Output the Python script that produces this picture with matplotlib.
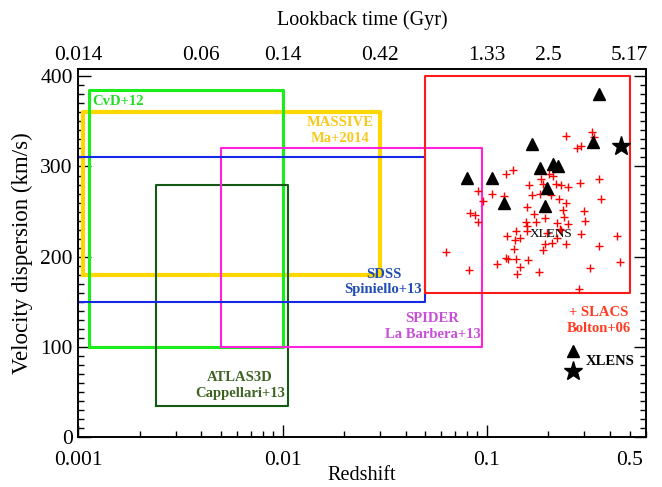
import numpy as np
import matplotlib
matplotlib.use('Agg')
import matplotlib.pyplot as plt
from matplotlib.ticker import LogLocator, MultipleLocator, FuncFormatter, NullLocator, NullFormatter

plt.rcParams['font.family'] = ['Liberation Serif', 'DejaVu Serif']

#-----survey boxes (redshift range, sigma range)-------#
box_names = ['MASSIVE', 'CvD+12', 'ATLAS3D', 'SPIDER', 'SDSS', 'SLACS']
box_zlo = [0.00105, 0.00113, 0.0024, 0.005, 0.001, 0.05]
box_zhi = [0.030, 0.0100, 0.0106, 0.095, 0.050, 0.50]
box_slo = [180, 100, 35, 100, 150, 160]
box_shi = [360, 385, 280, 320, 310, 400]
box_col = ['#ffd700', '#1aee1a', '#145a14', '#ff22dd', '#1428e6', '#ff1a1a']
box_lw = [3.0, 2.2, 1.5, 1.5, 1.5, 1.5]

#-----box labels-------#
lab_text = ['CvD+12', 'MASSIVE\nMa+2014', 'SDSS\nSpiniello+13', 'SPIDER\nLa Barbera+13',
            'ATLAS3D\nCappellari+13', '+ SLACS\nBolton+06']
lab_z = [0.00117, 0.0192, 0.0312, 0.0542, 0.0062, 0.353]
lab_s = [372, 340, 172, 123, 57.5, 129.5]
lab_ha = ['left', 'center', 'center', 'center', 'center', 'center']
lab_col = ['#22dd22', '#f8c81c', '#1f4db5', '#c84fd8', '#3e6424', '#ff3b22']

#-----SLACS lenses-------#
slacs_z = [0.244, 0.326, 0.336, 0.275, 0.289, 0.1245, 0.135, 0.201, 0.210, 0.185,
           0.161, 0.1875, 0.217, 0.232, 0.251, 0.287, 0.353, 0.0907, 0.1066, 0.121,
           0.166, 0.183, 0.207, 0.225, 0.245, 0.362, 0.096, 0.0826, 0.088, 0.0907,
           0.1565, 0.170, 0.193, 0.236, 0.240, 0.298, 0.302, 0.155, 0.175, 0.1565,
           0.221, 0.249, 0.228, 0.139, 0.158, 0.198, 0.232, 0.126, 0.137, 0.145,
           0.221, 0.289, 0.436, 0.192, 0.209, 0.243, 0.356, 0.136, 0.189, 0.0634,
           0.124, 0.127, 0.139, 0.160, 0.112, 0.145, 0.321, 0.447, 0.0816, 0.140,
           0.180, 0.284]
slacs_s = [334, 338, 333, 321, 323, 292, 296, 292, 290, 286,
           279, 281, 281, 279, 277, 282, 286, 273, 269, 267,
           268, 269, 268, 264, 259, 264, 262, 249, 246, 238,
           255, 247, 243, 252, 244, 251, 240, 239, 238, 234,
           237, 236, 231, 229, 228, 226, 230, 223, 219, 221,
           221, 225, 223, 214, 215, 214, 212, 209, 207, 205,
           199, 197, 198, 196, 192, 189, 187, 194, 185, 181,
           183, 164]

#-----XLENS lenses-------#
xl_z = [0.354, 0.166, 0.333, 0.0801, 0.1066, 0.182, 0.211, 0.224, 0.198, 0.121, 0.192]
xl_s = [380, 325, 327, 287, 287, 298, 303, 301, 276, 260, 256]
star_z = [0.452]
star_s = [323]

#-----top axis: lookback time-------#
lb_z = [0.001, 0.004, 0.01, 0.03, 0.1, 0.2, 0.5]
lb_labels = ['0.014', '0.06', '0.14', '0.42', '1.33', '2.5', '5.17']

fig = plt.figure(figsize=(6.62, 4.87), dpi=100)
ax = fig.add_axes([0.1183, 0.1021, 0.8571, 0.7562])

for i in range(len(box_names)):
    z0, z1, s0, s1 = box_zlo[i], box_zhi[i], box_slo[i], box_shi[i]
    ax.plot([z0, z1, z1, z0, z0], [s0, s0, s1, s1, s0], color=box_col[i], lw=box_lw[i])

for i in range(len(lab_text)):
    ax.text(lab_z[i], lab_s[i], lab_text[i], color=lab_col[i], ha=lab_ha[i], va='center',
            fontsize=10.5, fontweight='bold', linespacing=1.25)

ax.plot(slacs_z, slacs_s, '+', color='#ff0000', ms=5.5, mew=1.0)
ax.plot(xl_z, xl_s, '^', color='black', ms=9)
ax.plot(star_z, star_s, '*', color='black', ms=14)
ax.text(0.207, 225, 'XLENS', fontsize=9.5, ha='center', va='center')

# legend key for XLENS
ax.plot([0.263], [95.7], '^', color='black', ms=9)
ax.plot([0.263], [73.5], '*', color='black', ms=14)
ax.text(0.305, 84.5, 'XLENS', fontsize=10.5, fontweight='bold', va='center')

ax.set_xscale('log')
ax.set_xlim(0.001, 0.6)
ax.set_ylim(0, 408)

ax.xaxis.set_major_locator(LogLocator(base=10, numticks=10))
ax.xaxis.set_minor_locator(LogLocator(base=10, subs=np.arange(2, 10), numticks=10))
ax.xaxis.set_major_formatter(FuncFormatter(lambda v, p: '%g' % v))
ax.xaxis.set_minor_formatter(FuncFormatter(lambda v, p: '0.5' if abs(v - 0.5) < 1e-6 else ''))
ax.yaxis.set_major_locator(MultipleLocator(100))
ax.yaxis.set_minor_locator(MultipleLocator(10))

ax.tick_params(which='both', direction='in', top=True, right=True, labelsize=15.5, width=1)
ax.tick_params(which='major', length=9)
ax.tick_params(which='minor', length=4.5)
ax.tick_params(axis='x', which='both', pad=10)
ax.tick_params(axis='y', which='both', pad=4)

ax.set_xlabel('Redshift', fontsize=14.5, labelpad=-3)
ax.set_ylabel('Velocity dispersion (km/s)', fontsize=16.5, labelpad=5)

ax2 = ax.twiny()
ax2.set_xscale('log')
ax2.set_xlim(ax.get_xlim())
ax2.set_xticks(lb_z)
ax2.set_xticklabels(lb_labels)
ax2.xaxis.set_minor_locator(NullLocator())
ax2.xaxis.set_minor_formatter(NullFormatter())
ax2.tick_params(axis='x', length=0, labelsize=15.5, pad=3)
ax2.set_xlabel('Lookback time (Gyr)', fontsize=14.5, labelpad=15)

for a in (ax, ax2):
    for sp in a.spines.values():
        sp.set_linewidth(1.2)

plt.savefig('out.png', dpi=100)
